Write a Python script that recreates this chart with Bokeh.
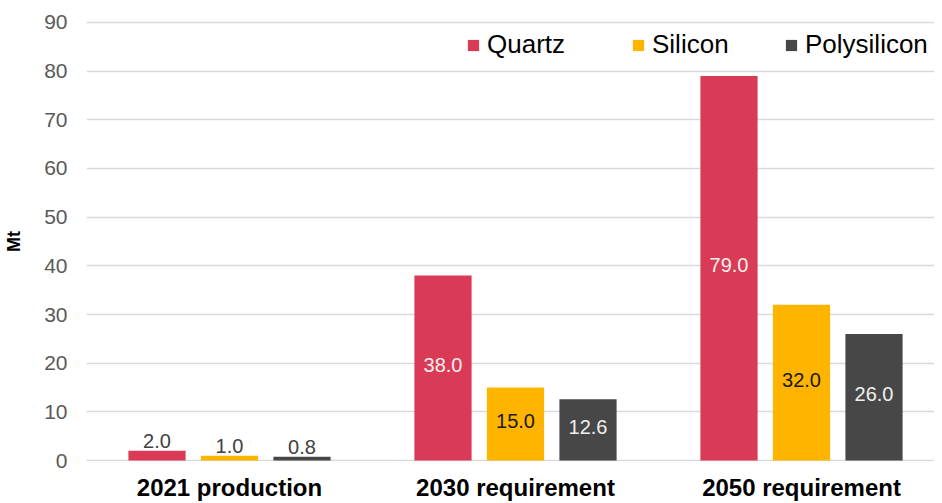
from bokeh.plotting import figure
from bokeh.models import (ColumnDataSource, Range1d, FixedTicker, Legend, LegendItem,
                          LabelSet)
from bokeh.core.properties import value
from bokeh.embed import file_html
from bokeh.resources import INLINE

categories = ["2021 production", "2030 requirement", "2050 requirement"]
series = ["Quartz", "Silicon", "Polysilicon"]
quartz = [2.0, 38.0, 79.0]
silicon = [1.0, 15.0, 32.0]
polysilicon = [0.8, 12.6, 26.0]
y_ticks = [0, 10, 20, 30, 40, 50, 60, 70, 80, 90]

colors = ["#D93A55", "#FFB400", "#474747"]
inside_text_colors = ["#F5F0F0", "#1A1A1A", "#F0F0F0"]
FONT = "Liberation Sans"

p = figure(width=934, height=503, output_backend="svg", toolbar_location=None,
           x_range=Range1d(-0.5, 2.465), y_range=Range1d(-0.2, 90.2),
           min_border_left=86, min_border_right=0, min_border_top=21,
           min_border_bottom=42)
p.outline_line_color = None
p.background_fill_color = "white"
p.border_fill_color = "white"

idx = list(range(len(categories)))

# category axis (bottom)
p.xaxis.ticker = FixedTicker(ticks=idx)
p.xaxis.major_label_overrides = {i: c for i, c in zip(idx, categories)}
p.xaxis.axis_line_color = None
p.xaxis.major_tick_line_color = None
p.xaxis.minor_tick_line_color = None
p.xaxis.major_tick_out = 0
p.xaxis.major_tick_in = 0
p.xaxis.minor_tick_out = 0
p.xaxis.major_label_standoff = 12
p.xaxis.major_label_text_font = FONT
p.xaxis.major_label_text_font_size = "24px"
p.xaxis.major_label_text_font_style = "bold"
p.xaxis.major_label_text_color = "#000000"

p.xgrid.visible = False
p.ygrid.grid_line_color = "#D9D9D9"
p.ygrid.grid_line_width = 1.3
p.yaxis.ticker = FixedTicker(ticks=y_ticks)
p.yaxis.axis_line_color = None
p.yaxis.major_tick_line_color = None
p.yaxis.minor_tick_line_color = None
p.yaxis.major_tick_out = 0
p.yaxis.major_tick_in = 0
p.yaxis.minor_tick_out = 0
p.yaxis.major_label_text_font = FONT
p.yaxis.major_label_text_font_size = "21px"
p.yaxis.major_label_text_color = "#595959"
p.yaxis.major_label_standoff = 19
p.yaxis.axis_label = "Mt"
p.yaxis.axis_label_text_font = FONT
p.yaxis.axis_label_text_font_size = "18px"
p.yaxis.axis_label_text_font_style = "bold"
p.yaxis.axis_label_text_color = "#000000"
p.yaxis.axis_label_standoff = 17

step = 0.2535
width = 0.2
renderers = []
for k, (name, vals) in enumerate(zip(series, [quartz, silicon, polysilicon])):
    off = (k - 1) * step
    xs = [i + off for i in idx]
    inside = [v >= 5 for v in vals]
    src = ColumnDataSource(dict(
        x=xs, top=vals,
        label=[f"{v:.1f}" for v in vals],
        ly=[v / 2 if ins else v for v, ins in zip(vals, inside)],
        lyo=[3 for ins in inside],
        base=["middle" if ins else "bottom" for ins in inside],
        tcol=[inside_text_colors[k] if ins else "#404040" for ins in inside],
    ))
    r = p.vbar(x="x", top="top", bottom=0, width=width, source=src,
               fill_color=colors[k], line_color=None)
    renderers.append(r)
    p.add_layout(LabelSet(x="x", y="ly", text="label", source=src,
                          y_offset="lyo", text_align="center",
                          text_baseline="base", text_color="tcol",
                          text_font=value(FONT), text_font_size=value("20px")))

legend_x = [380, 545, 698]
for k, name in enumerate(series):
    lg = Legend(items=[LegendItem(label=name, renderers=[renderers[k]])],
                location=(legend_x[k], 401), orientation="horizontal",
                glyph_width=14, glyph_height=14, label_standoff=7,
                label_text_font=FONT, label_text_font_size="26px",
                label_text_color="#000000", padding=0, margin=0,
                border_line_color=None, background_fill_alpha=0)
    p.add_layout(lg)

open("out.html", "w").write(file_html(p, INLINE))
